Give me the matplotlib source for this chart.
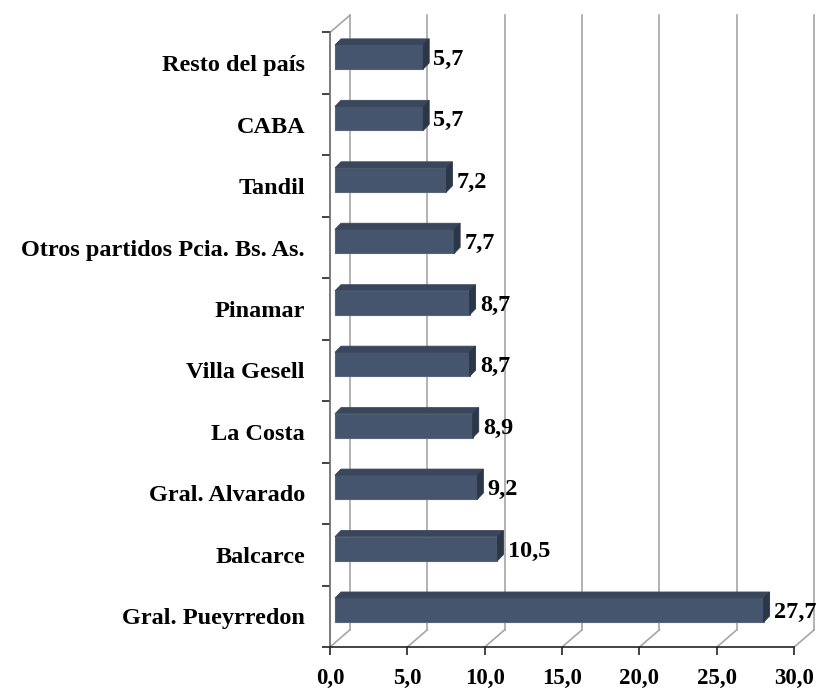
import matplotlib
matplotlib.use("Agg")
import matplotlib.pyplot as plt
from matplotlib.patches import Polygon

# datos
categorias = ["Gral. Pueyrredon", "Balcarce", "Gral. Alvarado", "La Costa",
              "Villa Gesell", "Pinamar", "Otros partidos Pcia. Bs. As.",
              "Tandil", "CABA", "Resto del país"]
valores = [27.7, 10.5, 9.2, 8.9, 8.7, 8.7, 7.7, 7.2, 5.7, 5.7]
etiquetas = ["27,7", "10,5", "9,2", "8,9", "8,7", "8,7", "7,7", "7,2", "5,7", "5,7"]
ticks_x = [0, 5, 10, 15, 20, 25, 30]
ticks_x_lbl = ["0,0", "5,0", "10,0", "15,0", "20,0", "25,0", "30,0"]

plt.rcParams['font.family'] = ['Liberation Serif', 'DejaVu Serif']
plt.rcParams['font.weight'] = 'bold'

fig = plt.figure(figsize=(8.2, 6.9), dpi=100)
ax = fig.add_axes([330 / 820, 43 / 690, 489 / 820, 633 / 690])

n = len(categorias)
# profundidad del efecto 3D (en unidades de datos)
dx = 1.29
dy = 0.28
ax.set_xlim(0, 31.6)
ax.set_ylim(-0.5, n - 0.5 + 0.3)

grid_col = "#a6a6a6"
# pared del fondo
for t in ticks_x:
    ax.plot([t + dx, t + dx], [-0.5 + dy, n - 0.5 + dy], color=grid_col, lw=1.2, zorder=1)
    ax.plot([t, t + dx], [-0.5, -0.5 + dy], color=grid_col, lw=1.2, zorder=1)
ax.plot([0, dx], [n - 0.5, n - 0.5 + dy], color=grid_col, lw=1.2, zorder=1)

# barras
fx, fy = dx * 0.25, 0.1
bx, by = dx * 0.3, 0.1
h = 0.39
for i, v in enumerate(valores):
    x0 = fx
    x1 = v + fx
    y0 = i + fy - h / 2
    y1 = i + fy + h / 2
    frente = Polygon([(x0, y0), (x1, y0), (x1, y1), (x0, y1)], closed=True,
                     facecolor="#45556d", edgecolor="#56657b", lw=0.8, zorder=3)
    techo = Polygon([(x0, y1), (x1, y1), (x1 + bx, y1 + by), (x0 + bx, y1 + by)],
                    closed=True, facecolor="#39465b", edgecolor="#39465b", lw=0.6, zorder=3)
    lado = Polygon([(x1, y0), (x1 + bx, y0 + by), (x1 + bx, y1 + by), (x1, y1)],
                   closed=True, facecolor="#2b3647", edgecolor="#2b3647", lw=0.6, zorder=3)
    for p in (frente, techo, lado):
        ax.add_patch(p)
    ax.annotate(etiquetas[i], (x1 + bx, i + fy - 0.04), xytext=(3, 0), textcoords="offset points",
                ha="left", va="center", fontsize=17.5, fontweight="bold", zorder=4)

# ejes
for s in ["top", "right"]:
    ax.spines[s].set_visible(False)
ax.spines["bottom"].set_bounds(0, 30)
ax.spines["left"].set_bounds(-0.5, n - 0.5)
ax.spines["bottom"].set_color("#222222")
ax.spines["left"].set_color("#666666")
ax.spines["bottom"].set_linewidth(1.2)
ax.spines["left"].set_linewidth(1.2)

ax.set_xticks(ticks_x)
ax.set_xticklabels(ticks_x_lbl, fontsize=16.5, fontweight="bold")
ax.tick_params(axis="x", length=6, width=1.2, pad=9, color="#222222")

ax.set_yticks([k - 0.5 for k in range(n + 1)])
ax.set_yticklabels([])
ax.tick_params(axis="y", which="major", length=6, width=1.2, color="#222222")
ax.set_yticks(range(n), minor=True)
ax.set_yticklabels(categorias, minor=True, fontsize=17.5, fontweight="bold")
ax.tick_params(axis="y", which="minor", length=0, pad=18)

fig.savefig("out.png", dpi=100)
